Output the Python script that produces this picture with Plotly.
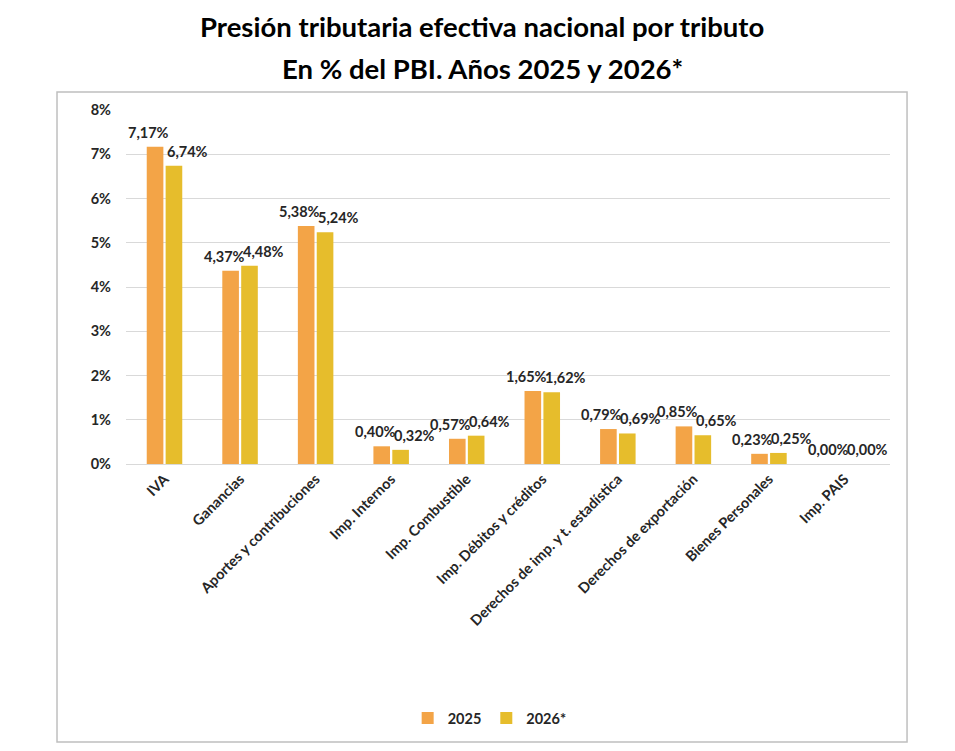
import plotly.graph_objects as go

categories = ["IVA", "Ganancias", "Aportes y contribuciones", "Imp. Internos", "Imp. Combustible",
              "Imp. Débitos y créditos", "Derechos de imp. y t. estadística", "Derechos de exportación",
              "Bienes Personales", "Imp. PAIS"]
v2025 = [7.17, 4.37, 5.38, 0.40, 0.57, 1.65, 0.79, 0.85, 0.23, 0.00]
v2026 = [6.74, 4.48, 5.24, 0.32, 0.64, 1.62, 0.69, 0.65, 0.25, 0.00]
series_names = ["2025", "2026*"]
colors = ["#F3A447", "#E6BD2C"]
title1 = "Presión tributaria efectiva nacional por tributo"
title2 = "En % del PBI. Años 2025 y 2026*"

FONT = "Lato"
TXT = "#262626"
fig = go.Figure()
for name, vals, col in zip(series_names, [v2025, v2026], colors):
    fig.add_trace(go.Bar(x=categories, y=vals, name=name, marker_color=col,
                         marker_line_width=0))

def fmt(v):
    return f"{v:.2f}".replace(".", ",") + "%"

annotations = []
for vals, xs in zip([v2025, v2026], [-16, 23]):
    for c, v in zip(categories, vals):
        annotations.append(dict(x=c, y=v, xref="x", yref="y", text=fmt(v), showarrow=False,
                                xshift=xs, yshift=4, yanchor="bottom",
                                font=dict(family=FONT, size=14.5, color=TXT, weight="bold")))

annotations.append(dict(x=0.466, y=1.2345, xref="paper", yref="paper", text=title1, showarrow=False,
                        xanchor="center", yanchor="middle",
                        font=dict(family=FONT, size=27.5, color="#000000", weight="bold")))
annotations.append(dict(x=0.466, y=1.1186, xref="paper", yref="paper", text=title2, showarrow=False,
                        xanchor="center", yanchor="middle",
                        font=dict(family=FONT, size=27.5, color="#000000", weight="bold")))

fig.update_layout(
    width=955, height=751,
    margin=dict(l=126, r=65, t=110, b=287),
    paper_bgcolor="white", plot_bgcolor="white",
    barmode="group", bargap=0.5, bargroupgap=0.12,
    annotations=annotations,
    showlegend=True,
    legend=dict(orientation="h", x=0.476, y=-0.7175, xanchor="center", yanchor="middle",
                font=dict(family=FONT, size=14.5, color=TXT, weight="bold"),
                itemwidth=30, traceorder="normal"),
    shapes=[dict(type="rect", xref="paper", yref="paper", x0=-0.0903, x1=1.0223, y0=-0.785, y1=1.0508,
                 line=dict(color="#BFBFBF", width=1.5), fillcolor="rgba(0,0,0,0)", layer="below")],
)
fig.update_xaxes(tickangle=-45, showgrid=False, showline=True, linecolor="#D9D9D9", linewidth=1,
                 tickfont=dict(family=FONT, size=14.5, color=TXT, weight="bold"), ticks="")
fig.update_yaxes(range=[0, 8], dtick=1, ticksuffix="%", showgrid=True, gridcolor="#D9D9D9",
                 zeroline=False, showline=False, ticks="", ticklabelstandoff=14,
                 tickfont=dict(family=FONT, size=14.5, color=TXT, weight="bold"))
fig.update_traces(cliponaxis=False)

fig.write_html("out.html")
